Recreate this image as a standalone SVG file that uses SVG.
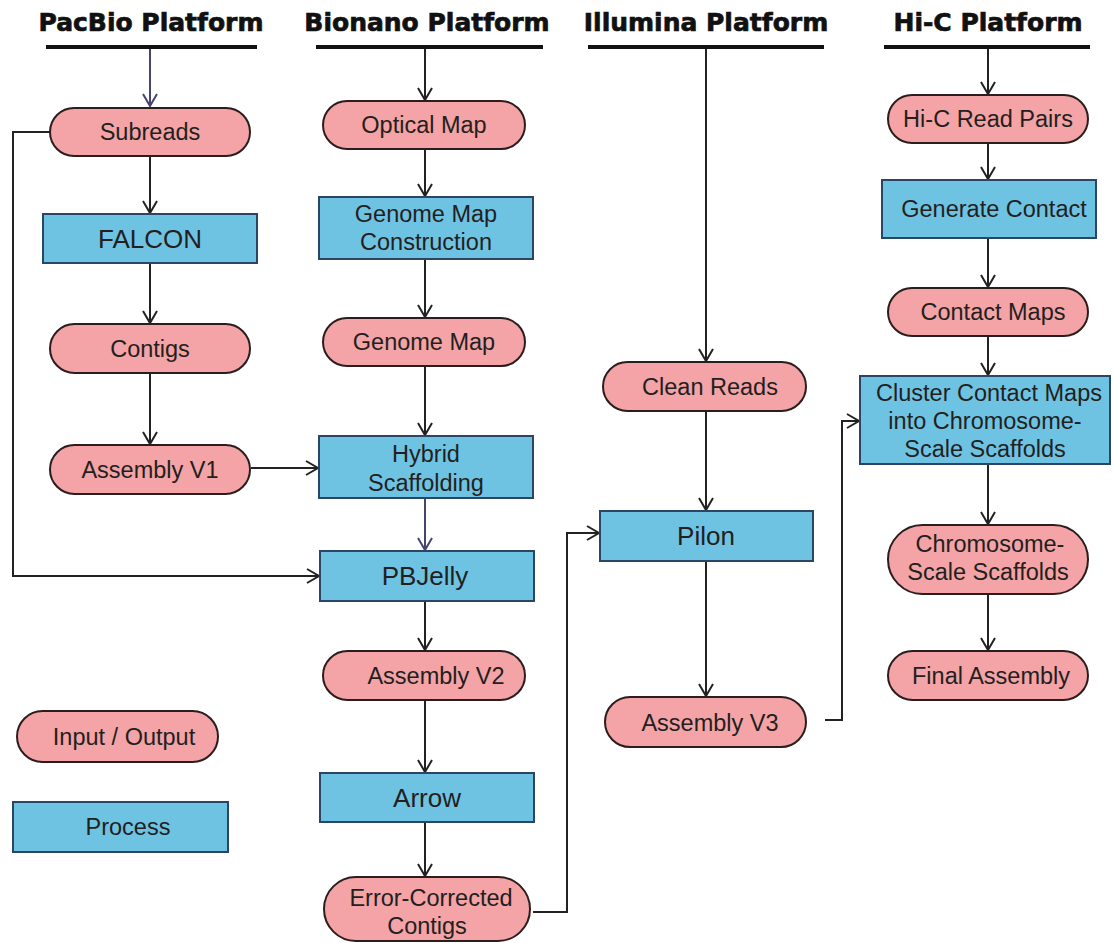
<svg xmlns="http://www.w3.org/2000/svg" width="1114" height="943" viewBox="0 0 1114 943">
<defs>
<style>
.title{font-family:"DejaVu Sans","Liberation Sans",sans-serif;font-weight:bold;font-size:25px;fill:#111;stroke:#111;stroke-width:0.7;text-anchor:middle}
.bar{stroke:#111;stroke-width:4}
.io{fill:#f4a3a6;stroke:#2b1d1d;stroke-width:2}
.pr{fill:#6ec3e3;stroke:#2c4565;stroke-width:2}
.t{font-family:"Liberation Sans",Arial,sans-serif;font-size:23.5px;fill:#231f20;text-anchor:middle}
.tb{font-family:"Liberation Sans",Arial,sans-serif;font-size:26px;fill:#231f20;text-anchor:middle}
.c{fill:none;stroke:#222;stroke-width:2;marker-end:url(#ah)}
.cb{fill:none;stroke:#45456e;stroke-width:2;marker-end:url(#ahb)}
</style>
<marker id="ah" markerUnits="userSpaceOnUse" markerWidth="16" markerHeight="18" refX="13" refY="8" orient="auto"><path d="M1,1 L13,8 L1,15" fill="none" stroke="#222" stroke-width="2"/></marker>
<marker id="ahb" markerUnits="userSpaceOnUse" markerWidth="16" markerHeight="18" refX="13" refY="8" orient="auto"><path d="M1,1 L13,8 L1,15" fill="none" stroke="#45456e" stroke-width="2"/></marker>
</defs>
<rect width="1114" height="943" fill="#fff"/>
<g id="headers">
<text class="title" x="151" y="31">PacBio Platform</text>
<line class="bar" x1="46" y1="47" x2="257" y2="47"/>
<text class="title" x="427" y="31">Bionano Platform</text>
<line class="bar" x1="316" y1="47" x2="543" y2="47"/>
<text class="title" x="706" y="31">Illumina Platform</text>
<line class="bar" x1="588" y1="47" x2="824" y2="47"/>
<text class="title" x="988" y="31">Hi-C Platform</text>
<line class="bar" x1="884" y1="47" x2="1090" y2="47"/>
</g>
<g id="connectors">
<path class="cb" d="M150,49 V106"/>
<path class="c" d="M150,156 V213"/>
<path class="c" d="M150,263 V323"/>
<path class="c" d="M150,373 V444"/>
<path class="c" d="M251,468 H318"/>
<path class="c" d="M50,132 H13 V576 H319"/>
<path class="c" d="M425,49 V100"/>
<path class="c" d="M425,149 V196"/>
<path class="c" d="M425,259 V317"/>
<path class="c" d="M425,366 V435"/>
<path class="cb" d="M425,498 V550"/>
<path class="c" d="M425,601 V650"/>
<path class="c" d="M425,700 V772"/>
<path class="c" d="M425,822 V876"/>
<path class="c" d="M533,912 H567 V533 H599"/>
<path class="c" d="M706,49 V361"/>
<path class="c" d="M706,411 V510"/>
<path class="c" d="M706,561 V696"/>
<path class="c" d="M825,720 H842 V421 H859"/>
<path class="c" d="M988,49 V94"/>
<path class="c" d="M988,143 V179"/>
<path class="c" d="M988,238 V287"/>
<path class="c" d="M988,336 V375"/>
<path class="c" d="M988,464 V524"/>
<path class="c" d="M988,594 V650"/>
</g>
<g id="subreads"><rect class="io" x="50" y="108" width="200" height="48" rx="24"/><text class="t" x="150" y="140">Subreads</text></g>
<g id="falcon"><rect class="pr" x="43" y="214" width="214" height="49"/><text class="tb" x="150" y="248">FALCON</text></g>
<g id="contigs"><rect class="io" x="50" y="324" width="200" height="49" rx="24.5"/><text class="t" x="150" y="357">Contigs</text></g>
<g id="assembly-v1"><rect class="io" x="50" y="445" width="200" height="49" rx="24.5"/><text class="t" x="150" y="478">Assembly V1</text></g>
<g id="optical-map"><rect class="io" x="323" y="101" width="202" height="48" rx="24"/><text class="t" x="424" y="133">Optical Map</text></g>
<g id="genome-map-construction"><rect class="pr" x="319" y="197" width="214" height="62"/><text class="t" x="426" y="222">Genome Map</text><text class="t" x="426" y="250">Construction</text></g>
<g id="genome-map"><rect class="io" x="323" y="318" width="202" height="48" rx="24"/><text class="t" x="424" y="350">Genome Map</text></g>
<g id="hybrid-scaffolding"><rect class="pr" x="319" y="436" width="214" height="62"/><text class="t" x="426" y="462">Hybrid</text><text class="t" x="426" y="491">Scaffolding</text></g>
<g id="pbjelly"><rect class="pr" x="320" y="551" width="214" height="50"/><text class="tb" x="425" y="585">PBJelly</text></g>
<g id="assembly-v2"><rect class="io" x="323" y="651" width="202" height="49" rx="24.5"/><text class="t" x="436" y="684">Assembly V2</text></g>
<g id="arrow"><rect class="pr" x="320" y="773" width="214" height="49"/><text class="tb" x="427" y="807">Arrow</text></g>
<g id="error-corrected-contigs"><rect class="io" x="324" y="877" width="206" height="64" rx="32"/><text class="t" x="431" y="906">Error-Corrected</text><text class="t" x="427" y="934">Contigs</text></g>
<g id="clean-reads"><rect class="io" x="603" y="362" width="203" height="49" rx="24.5"/><text class="t" x="710" y="395">Clean Reads</text></g>
<g id="pilon"><rect class="pr" x="600" y="511" width="213" height="50"/><text class="tb" x="706" y="545">Pilon</text></g>
<g id="assembly-v3"><rect class="io" x="605" y="697" width="201" height="50" rx="25"/><text class="t" x="710" y="731">Assembly V3</text></g>
<g id="hic-read-pairs"><rect class="io" x="888" y="95" width="200" height="48" rx="24"/><text class="t" x="988" y="127">Hi-C Read Pairs</text></g>
<g id="generate-contact"><rect class="pr" x="882" y="180" width="214" height="58"/><text class="t" x="994" y="217">Generate Contact</text></g>
<g id="contact-maps"><rect class="io" x="888" y="288" width="200" height="48" rx="24"/><text class="t" x="993" y="320">Contact Maps</text></g>
<g id="cluster"><rect class="pr" x="860" y="376" width="250" height="88"/><text class="t" x="989" y="401">Cluster Contact Maps</text><text class="t" x="985" y="429">into Chromosome-</text><text class="t" x="985" y="457">Scale Scaffolds</text></g>
<g id="chromosome-scale-scaffolds"><rect class="io" x="888" y="525" width="200" height="69" rx="34.5"/><text class="t" x="990" y="552">Chromosome-</text><text class="t" x="988" y="580">Scale Scaffolds</text></g>
<g id="final-assembly"><rect class="io" x="888" y="651" width="200" height="49" rx="24.5"/><text class="t" x="991" y="684">Final Assembly</text></g>
<g id="legend-io"><rect class="io" x="17" y="711" width="201" height="51" rx="25.5"/><text class="t" x="124" y="745">Input / Output</text></g>
<g id="legend-process"><rect class="pr" x="13" y="802" width="215" height="50"/><text class="t" x="128" y="835">Process</text></g>
</svg>
